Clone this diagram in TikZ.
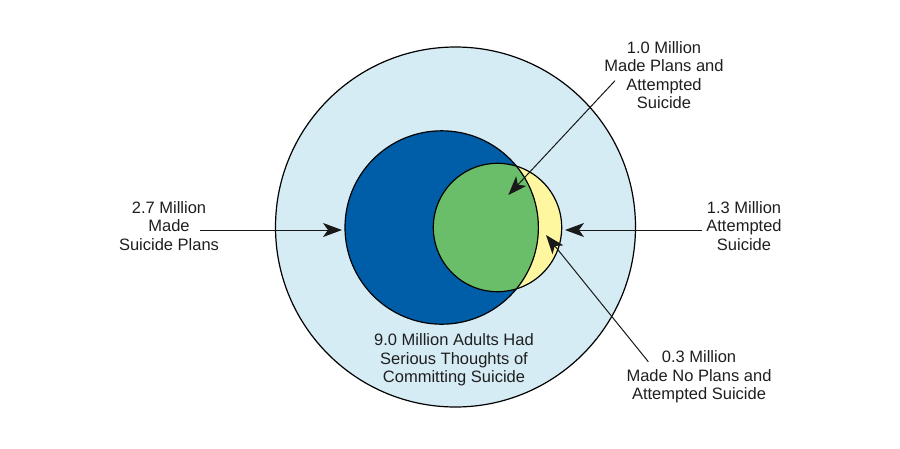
\documentclass[tikz,border=0pt]{standalone}
\usepackage{fontspec}
\setmainfont{Liberation Sans}
\usetikzlibrary{arrows.meta}
\definecolor{outerblue}{RGB}{214,236,245}
\definecolor{darkblue}{RGB}{0,94,168}
\definecolor{vgreen}{RGB}{106,190,105}
\definecolor{vyellow}{RGB}{255,247,160}
\tikzset{
  ring/.style={draw=black, line width=1.2pt},
  label/.style={align=center, font=\fontsize{16.5}{18.3}\selectfont, text=black!88, inner sep=0pt},
  pointer/.style={draw=black!90, line width=1pt, -{Stealth[length=19pt,width=14pt,inset=5pt]}}
}
\begin{document}
\begin{tikzpicture}[x=1pt,y=-1pt]
\useasboundingbox (0,0) rectangle (900,448);
\fill[white] (0,0) rectangle (900,448);
% circles
\path[ring, fill=outerblue] (455.5,227) circle (180);
\path[fill=darkblue] (441.7,227.5) circle (96.7);
\path[fill=vyellow] (497.5,227.5) circle (64.2);
\begin{scope}
  \clip (441.7,227.5) circle (96.7);
  \fill[vgreen] (497.5,227.5) circle (64.2);
\end{scope}
\draw[ring] (441.7,227.5) circle (96.7);
\draw[ring] (497.5,227.5) circle (64.2);
% labels
\node[label] (tl) at (664,75) {1.0 Million\\Made Plans and\\Attempted\\Suicide};
\node[label] (lt) at (169,226) {2.7 Million\\Made\\Suicide Plans};
\node[label] (rt) at (744,226) {1.3 Million\\Attempted\\Suicide};
\node[label] (br) at (699,377) {0.3 Million\\Made No Plans and\\Attempted Suicide};
\node[label] (ct) at (454,360) {9.0 Million Adults Had\\Serious Thoughts of\\Committing Suicide};
% arrow coordinates
\coordinate (a1s) at (615,80.7);
\coordinate (a1e) at (508.3,195);
\coordinate (a2s) at (200,230);
\coordinate (a2e) at (342,230);
\coordinate (a3s) at (701.7,230);
\coordinate (a3e) at (565,230);
\coordinate (a4s) at (648.3,361.7);
\coordinate (a4e) at (546,235);
\draw[pointer] (a1s) -- (a1e);
\draw[pointer] (a2s) -- (a2e);
\draw[pointer] (a3s) -- (a3e);
\draw[pointer] (a4s) -- (a4e);
\end{tikzpicture}
\end{document}
